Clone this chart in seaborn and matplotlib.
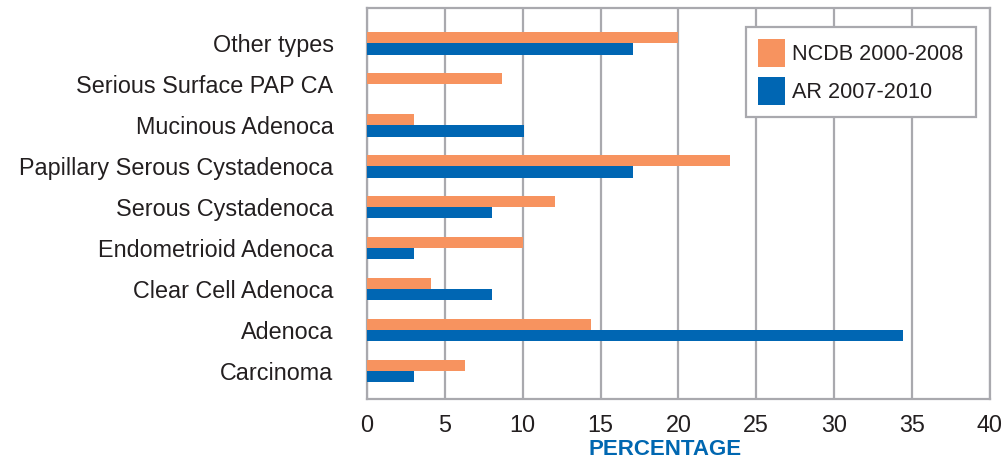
import pandas as pd
import matplotlib.pyplot as plt
import seaborn as sns

# data
categories = ["Other types", "Serious Surface PAP CA", "Mucinous Adenoca",
              "Papillary Serous Cystadenoca", "Serous Cystadenoca",
              "Endometrioid Adenoca", "Clear Cell Adenoca", "Adenoca", "Carcinoma"]
ncdb = [20.0, 8.7, 3.0, 23.3, 12.1, 10.0, 4.1, 14.4, 6.3]
ar = [17.1, 0.0, 10.1, 17.1, 8.0, 3.0, 8.0, 34.4, 3.0]
series = ["NCDB 2000-2008", "AR 2007-2010"]
xticks = [0, 5, 10, 15, 20, 25, 30, 35, 40]

df = pd.DataFrame({
    "category": categories * 2,
    "value": ncdb + ar,
    "series": [series[0]] * len(categories) + [series[1]] * len(categories),
})

sns.set_style("white")
plt.rcParams["font.family"] = ["Liberation Sans", "DejaVu Sans"]

fig = plt.figure(figsize=(10.08, 4.61), dpi=100)
ax = fig.add_axes([0.364, 0.135, 0.618, 0.848])

sns.barplot(data=df, x="value", y="category", hue="series", orient="h",
            palette=["#F7935F", "#0066B3"], width=0.55, ax=ax,
            edgecolor="none", saturation=1, zorder=3)

ax.set_xlim(0, 40)
ax.set_ylim(8.68, -0.87)
ax.set_xticks(xticks)
ax.xaxis.grid(True, color="#A9A9AE", linewidth=1.6, zorder=0)
ax.set_axisbelow(True)
for s in ax.spines.values():
    s.set_color("#A9A9AE")
    s.set_linewidth(1.6)

ax.tick_params(axis="y", length=0, pad=24, labelsize=16.8, labelcolor="#231F20")
ax.tick_params(axis="x", length=0, pad=11, labelsize=16.8, labelcolor="#231F20")
ax.set_ylabel("")
ax.set_xlabel("PERCENTAGE", color="#0067B1", fontsize=16, fontweight="bold")
ax.xaxis.set_label_coords(0.478, -0.102)

leg = ax.legend(loc="upper left", bbox_to_anchor=(0.608, 0.95), frameon=True,
                fancybox=False, fontsize=15.6, handlelength=1.25, handleheight=1.6,
                borderpad=0.55, labelspacing=0.45, handletextpad=0.35,
                borderaxespad=0)
leg.get_frame().set_edgecolor("#A9A9AE")
leg.get_frame().set_linewidth(1.6)
leg.get_frame().set_alpha(1)
for t in leg.get_texts():
    t.set_color("#231F20")

plt.savefig("out.png", dpi=100)
